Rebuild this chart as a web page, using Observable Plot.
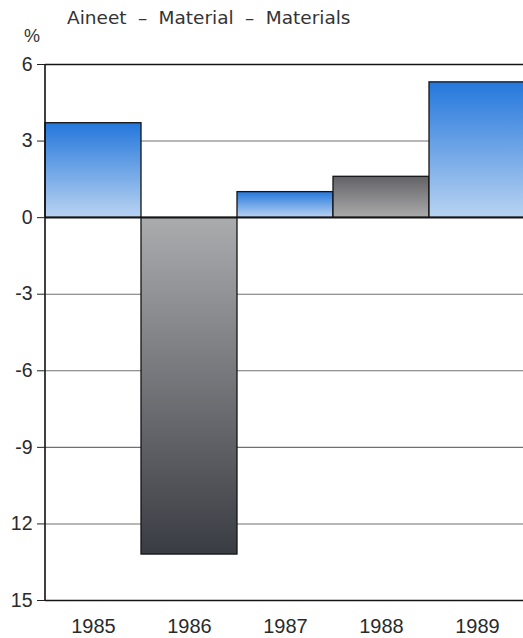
<!DOCTYPE html>
<html>
<head>
<meta charset="utf-8">
<script src="https://cdn.jsdelivr.net/npm/d3@7"></script>
<script src="https://cdn.jsdelivr.net/npm/@observablehq/plot@0.6"></script>
<style>
  html, body { margin: 0; padding: 0; background: #fff; }
  #wrap { position: relative; width: 523px; height: 638px; overflow: hidden; font-family: "Liberation Sans", Arial, sans-serif; color: #2a2a2a; }
  #title { position: absolute; left: 67px; top: 7px; font-family: "DejaVu Sans", sans-serif; font-size: 18.5px; white-space: nowrap; color: #333; word-spacing: 5.5px; }
  #unit { position: absolute; left: 24px; top: 26px; font-size: 18px; color: #333; }
  #chart { position: absolute; left: 0; top: 0; }
</style>
</head>
<body>
<div id="wrap">
  <div id="title">Aineet – Material – Materials</div>
  <div id="unit">%</div>
  <div id="chart"></div>
</div>
<script>
const years = ["1985", "1986", "1987", "1988", "1989"];
const values = [3.7, -13.2, 1.0, 1.6, 5.3];
const tones = ["blue", "gray", "blue", "gray", "blue"];
const yTicks = [6, 3, 0, -3, -6, -9, -12, -15];
const yTickLabels = ["6", "3", "0", "-3", "-6", "-9", "12", "15"];
const gridTicks = [3, -3, -6, -9, -12];
const frameTicks = [6, 0, -15];

const data = years.map((year, i) => ({
  year,
  value: values[i],
  grad: `url(#${tones[i]}-${values[i] >= 0 ? "up" : "down"})`
}));

const NS = "http://www.w3.org/2000/svg";
function gradient(id, topColor, bottomColor) {
  const g = document.createElementNS(NS, "linearGradient");
  g.setAttribute("id", id);
  g.setAttribute("x1", "0"); g.setAttribute("y1", "0");
  g.setAttribute("x2", "0"); g.setAttribute("y2", "1");
  [[0, topColor], [1, bottomColor]].forEach(([o, c]) => {
    const s = document.createElementNS(NS, "stop");
    s.setAttribute("offset", o);
    s.setAttribute("stop-color", c);
    g.appendChild(s);
  });
  return g;
}
function defsMark() {
  const defs = document.createElementNS(NS, "defs");
  defs.appendChild(gradient("blue-up", "#2477dc", "#b9d3f1"));
  defs.appendChild(gradient("blue-down", "#b9d3f1", "#2477dc"));
  defs.appendChild(gradient("gray-up", "#626266", "#ababab"));
  defs.appendChild(gradient("gray-down", "#aaacae", "#3a3c43"));
  return defs;
}
function leftAxisLine(index, scales, values, dimensions) {
  const l = document.createElementNS(NS, "line");
  const x = dimensions.marginLeft;
  l.setAttribute("x1", x); l.setAttribute("x2", x);
  l.setAttribute("y1", scales.y(6)); l.setAttribute("y2", scales.y(-15));
  l.setAttribute("stroke", "#111");
  l.setAttribute("stroke-width", "1.6");
  return l;
}

const plot = Plot.plot({
  width: 523,
  height: 638,
  marginTop: 64,
  marginBottom: 38,
  marginLeft: 45,
  marginRight: 0,
  style: { fontFamily: "'Liberation Sans', Arial, sans-serif", fontSize: "19px", color: "#2a2a2a", background: "transparent", overflow: "visible" },
  x: { type: "band", domain: years, range: [45, 525], padding: 0 },
  y: { domain: [-15, 6] },
  color: { type: "identity" },
  marks: [
    defsMark,
    Plot.ruleY(gridTicks, { stroke: "#707070", strokeWidth: 1.1 }),
    Plot.barY(data, { x: "year", y: "value", fill: "grad", stroke: "#151515", strokeWidth: 1.3 }),
    Plot.ruleY(frameTicks, { stroke: "#151515", strokeWidth: 1.7 }),
    leftAxisLine,
    Plot.axisY({ ticks: yTicks, tickFormat: d => yTickLabels[yTicks.indexOf(d)], tickSize: 8, tickPadding: 5, fontSize: 19.5, label: null, stroke: "#222" }),
    Plot.axisX({ tickSize: 0, tickPadding: 18, fontSize: 20, label: null })
  ]
});
document.getElementById("chart").appendChild(plot);
</script>
</body>
</html>
